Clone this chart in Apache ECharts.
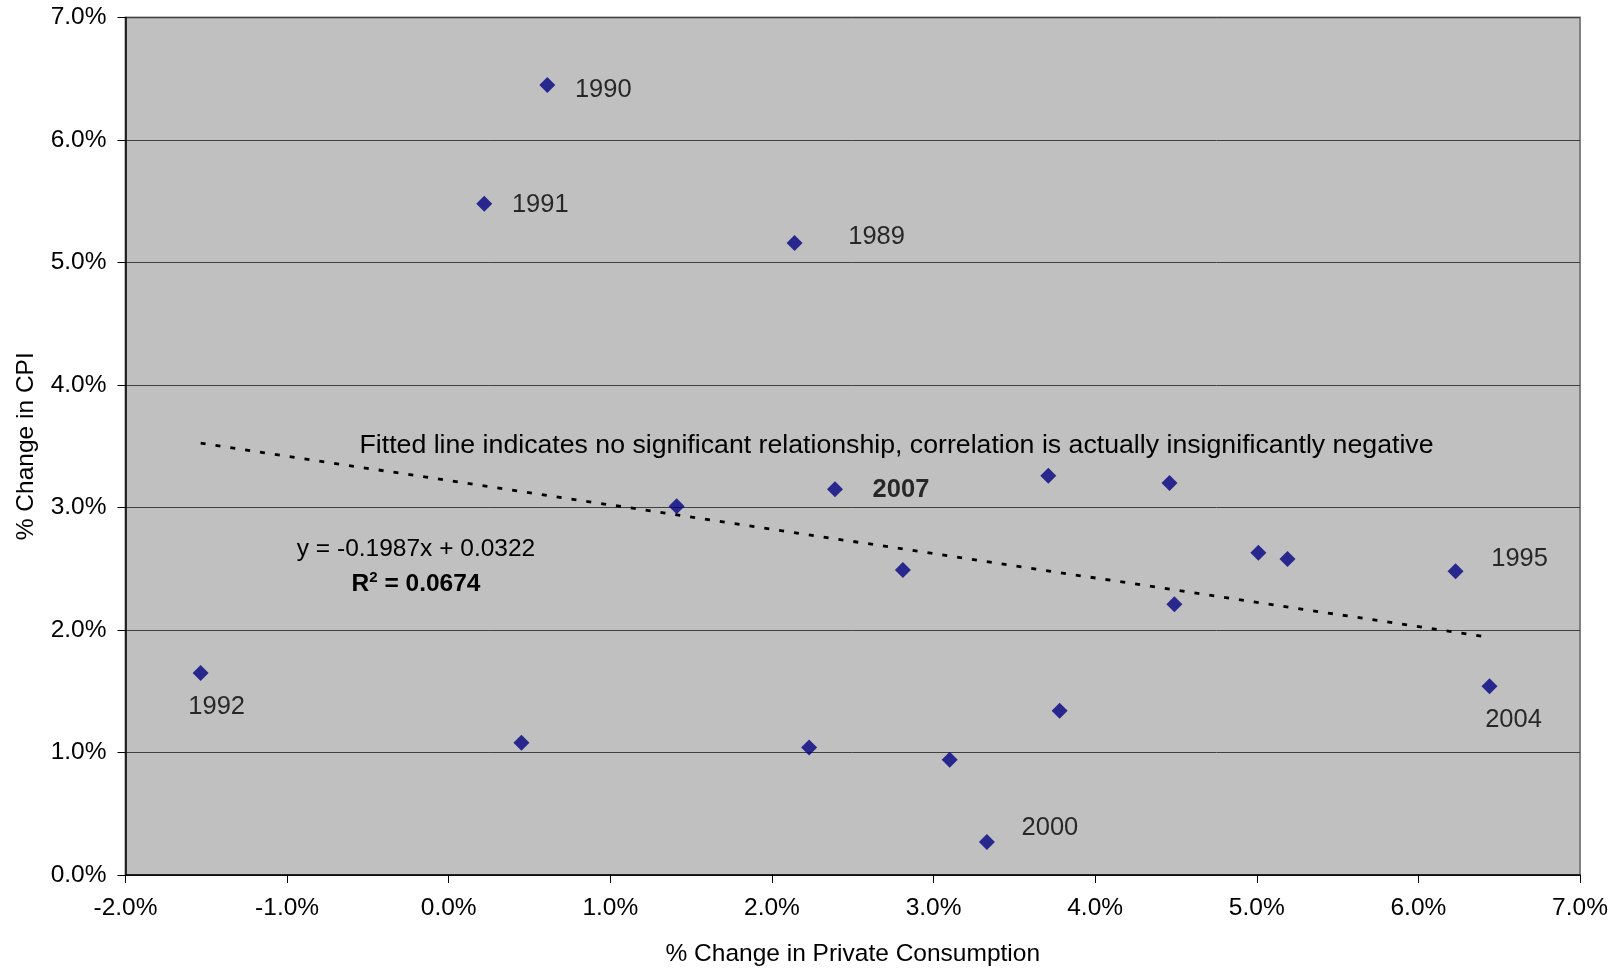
<!DOCTYPE html>
<html>
<head>
<meta charset="utf-8">
<script src="https://cdn.jsdelivr.net/npm/echarts@6/dist/echarts.min.js"></script>
<style>
html,body{margin:0;padding:0;background:#fff;}
#chart{width:1615px;height:972px;}
</style>
</head>
<body>
<div id="chart"></div>
<script>
// ---- data (percent units) ----
var consumptionChange = [2.14, 0.61, 0.22, -1.535, 6.23, 1.41, 0.45, 2.81, 3.71, 4.46, 3.33, 2.23, 3.10, 4.49, 6.44, 3.78, 5.01, 5.19, 2.39];
var cpiChange         = [5.16, 6.45, 5.48,  1.65, 2.48, 3.01, 1.08, 2.49, 3.26, 3.20, 0.27, 1.04, 0.94, 2.21, 1.54, 1.34, 2.63, 2.58, 3.15];
var pointLabels       = ['1989','1990','1991','1992','1995','','','','','','2000','','','','2004','','','','2007'];
var trendX = [-1.535, 6.44];
var trendY = [3.525, 1.94];
var xTicks = [-2, -1, 0, 1, 2, 3, 4, 5, 6, 7];
var yTicks = [0, 1, 2, 3, 4, 5, 6, 7];
var annotationText = 'Fitted line indicates no significant relationship, correlation is actually insignificantly negative';
var equationText = 'y = -0.1987x + 0.0322';
var rSquaredText = '0.0674';

// ---- label placement (style, not data) ----
var labelOffsets = {
  '1989': [82, -6], '1990': [56, 5], '1991': [56, 1], '1992': [16, 34],
  '1995': [64, -12], '2000': [63, -14], '2004': [24, 34], '2007': [66, 1]
};
var FONT = '"Liberation Sans", Arial, Helvetica, sans-serif';

var scatterData = consumptionChange.map(function (x, i) {
  var lbl = pointLabels[i];
  var item = { value: [x, cpiChange[i]] };
  if (lbl) {
    item.label = {
      show: true,
      formatter: lbl,
      position: 'inside',
      align: 'center',
      verticalAlign: 'middle',
      offset: labelOffsets[lbl],
      color: '#000',
      fontFamily: FONT,
      fontSize: 25.5,
      fontWeight: lbl === '2007' ? 'bold' : 'normal'
    };
  }
  return item;
});

var chart = echarts.init(document.getElementById('chart'), null, { renderer: 'canvas' });
chart.setOption({
  animation: false,
  backgroundColor: '#ffffff',
  grid: {
    left: 125.5, top: 17.5, right: 35, bottom: 93.5,
    show: true, backgroundColor: '#C0C0C0', borderColor: '#808080', borderWidth: 2
  },
  xAxis: {
    type: 'value',
    min: xTicks[0], max: xTicks[xTicks.length - 1], interval: 1,
    name: '% Change in Private Consumption',
    nameLocation: 'middle', nameGap: 67,
    nameTextStyle: { fontFamily: FONT, fontSize: 24.5, color: '#000' },
    axisLine: { show: true, onZero: false, lineStyle: { color: '#000', width: 1.5 } },
    axisTick: { show: true, inside: false, length: 8, lineStyle: { color: '#000', width: 1 } },
    axisLabel: { fontFamily: FONT, fontSize: 24.5, color: '#000', margin: 21,
      formatter: function (v) { return v.toFixed(1) + '%'; } },
    splitLine: { show: false }
  },
  yAxis: {
    type: 'value',
    min: yTicks[0], max: yTicks[yTicks.length - 1], interval: 1,
    name: '% Change in CPI',
    nameLocation: 'middle', nameGap: 87,
    nameTextStyle: { fontFamily: FONT, fontSize: 24.5, color: '#000' },
    axisLine: { show: true, onZero: false, lineStyle: { color: '#000', width: 1.5 } },
    axisTick: { show: true, inside: false, length: 8, lineStyle: { color: '#000', width: 1 } },
    axisLabel: { fontFamily: FONT, fontSize: 24.5, color: '#000', margin: 19,
      formatter: function (v) { return v.toFixed(1) + '%'; } },
    splitLine: { show: true, lineStyle: { color: '#404040', width: 1 } }
  },
  series: [
    {
      type: 'line',
      data: trendX.map(function (x, i) { return [x, trendY[i]]; }),
      showSymbol: false,
      symbol: 'none',
      lineStyle: { color: '#000', width: 2.8, type: [5, 10] },
      z: 2,
      silent: true
    },
    {
      type: 'scatter',
      data: scatterData,
      symbol: 'diamond',
      symbolSize: 16,
      itemStyle: { color: '#000080' },
      z: 3
    }
  ],
  graphic: [
    {
      type: 'text', left: 359.5, top: 432,
      style: { text: annotationText, font: '26.7px ' + FONT, fill: '#000' }
    },
    {
      type: 'text', x: 416, y: 549,
      style: { text: equationText, font: '24.5px ' + FONT, fill: '#000', align: 'center', verticalAlign: 'middle' }
    },
    {
      type: 'text', x: 416, y: 584,
      style: {
        text: '{b|R}{s|2}{b| = ' + rSquaredText + '}',
        align: 'center', verticalAlign: 'middle',
        rich: {
          b: { fontFamily: FONT, fontSize: 24.5, fontWeight: 'bold', color: '#000' },
          s: { fontFamily: FONT, fontSize: 15, fontWeight: 'bold', color: '#000', verticalAlign: 'top', padding: [0, 0, 12, 0] }
        }
      }
    }
  ]
});
</script>
</body>
</html>
